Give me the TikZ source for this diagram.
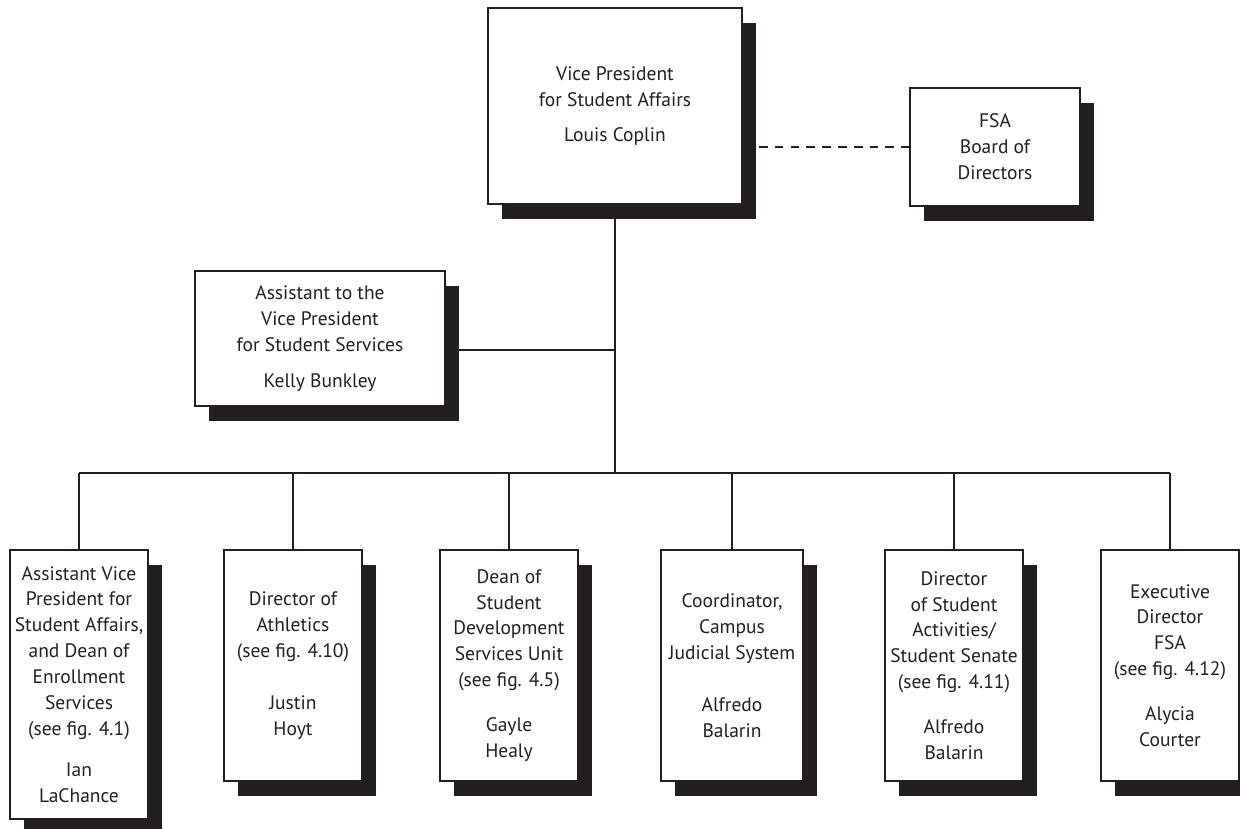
\documentclass[tikz,border=0pt]{standalone}
\usepackage{fontspec}
\setmainfont{PT Sans}
\usepackage{tikz}
\usetikzlibrary{positioning,shadows}
\definecolor{ink}{HTML}{231F20}

\begin{document}
\begin{tikzpicture}[
      box/.style={draw=ink, line width=1.2pt, fill=white, align=center, inner sep=1pt,
                  text=ink, font=\fontsize{11.1}{14.7}\selectfont,
                  drop shadow={shadow xshift=0.28cm, shadow yshift=-0.3cm, fill=ink, opacity=1}},
      unit/.style={box, anchor=north, minimum width=2.76cm, minimum height=4.62cm},
      link/.style={draw=ink, line width=1.2pt}]
      \useasboundingbox (0, 0) rectangle (24.8, 16.56);
      \node (vp) [box, minimum width=5.08cm, minimum height=3.92cm] at (12.30, 14.44)
            {Vice President\\for Student Affairs\\[5pt]Louis Coplin};
      \node (fsa) [box, minimum width=3.40cm, minimum height=2.36cm] at (19.90, 13.62)
            {FSA\\Board of\\Directors};
      \node (asst) [box, minimum width=5.00cm, minimum height=2.70cm] at (6.40, 9.79)
            {Assistant to the\\Vice President\\for Student Services\\[6pt]Kelly Bunkley};
      \node (avp) [unit, minimum height=5.38cm] at (1.58, 5.58)
            {Assistant Vice\\President for\\Student Affairs,\\and Dean of\\Enrollment\\Services\\(see fig. 4.1)\\[9pt]Ian\\LaChance};
      \node (ath) [unit] at (5.86, 5.58)
            {Director of\\Athletics\\(see fig. 4.10)\\[15pt]Justin\\Hoyt};
      \node (dean) [unit] at (10.18, 5.58)
            {Dean of\\Student\\Development\\Services Unit\\(see fig. 4.5)\\[11pt]Gayle\\Healy};
      \node (jud) [unit, minimum width=2.84cm] at (14.64, 5.58)
            {Coordinator,\\Campus\\Judicial System\\[15pt]Alfredo\\Balarin};
      \node (act) [unit] at (19.08, 5.58)
            {Director\\of Student\\Activities/\\Student Senate\\(see fig. 4.11)\\[11pt]Alfredo\\Balarin};
      \node (exec) [unit] at (23.40, 5.58)
            {Executive\\Director\\FSA\\(see fig. 4.12)\\[11pt]Alycia\\Courter};
      \coordinate (ajoin) at (12.30, 9.56);
      \coordinate (bus) at (12.30, 7.10);
      \draw[link] (vp) -- (bus)
                  (asst.east |- ajoin) -- (ajoin)
                  (avp.north |- bus) -- (exec.north |- bus);
      \foreach \u in {avp, ath, dean, jud, act, exec}
            \draw[link] (\u.north |- bus) -- (\u.north);
      \draw[link, dash pattern=on 5pt off 4pt] (fsa.west -| vp.east) -- (fsa.west);
\end{tikzpicture}
\end{document}
